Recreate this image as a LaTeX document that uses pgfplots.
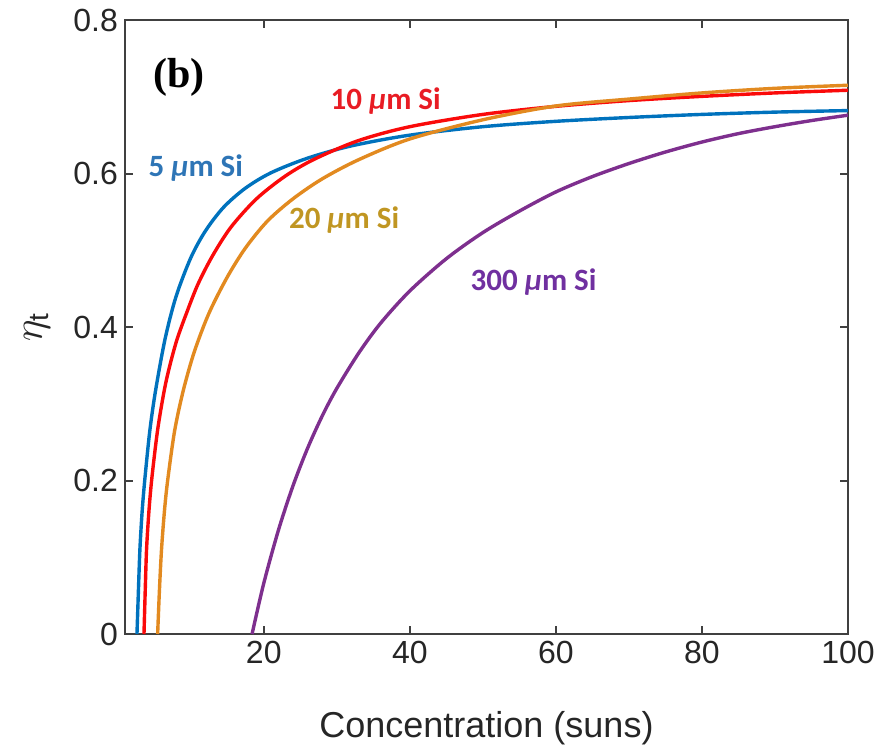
\documentclass[border=0pt]{standalone}
\usepackage{fontspec}
\setmainfont{Liberation Sans}
\newfontfamily\labfont{Carlito}
\newfontfamily\titfont{Liberation Serif}
\usepackage{pgfplots}
\pgfplotsset{compat=1.18}

\definecolor{cblue}{RGB}{0,114,189}
\definecolor{cred}{RGB}{250,10,10}
\definecolor{corange}{RGB}{226,138,32}
\definecolor{cpurple}{RGB}{126,47,142}
\definecolor{lblue}{RGB}{46,117,182}
\definecolor{lred}{RGB}{232,28,36}
\definecolor{lgold}{RGB}{192,150,34}
\definecolor{lpurple}{RGB}{112,48,160}
\definecolor{axgray}{RGB}{64,64,64}

\begin{document}
\begin{tikzpicture}
\useasboundingbox (-62.5pt,-56pt) rectangle (376pt,317pt);
\begin{axis}[
  at={(0,0)}, anchor=south west,
  scale only axis,
  width=361.5pt, height=307pt,
  xmin=1, xmax=100, ymin=0, ymax=0.8,
  xtick={20,40,60,80,100},
  ytick={0,0.2,0.4,0.6,0.8},
  yticklabels={0,0.2,0.4,0.6,0.8},
  tick align=inside,
  major tick length=4pt,
  axis line style={draw=axgray, line width=1.2pt},
  tick style={draw=axgray, line width=1pt},
  /pgf/number format/assume math mode=true,
  ticklabel style={font=\fontsize{16}{16}\selectfont, text=black!85},
  xlabel={Concentration (suns)},
  xlabel style={font=\fontsize{18}{18}\selectfont, text=black!85,
    at={(axis description cs:0.5,-0.1678)}, anchor=base},
  ylabel={$\eta_{\mathrm{t}}$},
  ylabel style={font=\fontsize{20}{20}\selectfont, text=black!85,
    at={(axis description cs:-0.1217,0.5)}, anchor=center},
  clip=true,
  every axis plot/.append style={line width=1.7pt, smooth, tension=0.5},
]

% 5 um Si
\addplot[cblue] coordinates {
  (2.64,0) (2.85,0.06) (3.05,0.112) (3.35,0.160) (3.7,0.200) (4.4,0.265)
  (5.2,0.318) (6.5,0.385) (8,0.440) (10,0.490) (12,0.525) (14.5,0.556)
  (17.5,0.581) (21,0.601) (26,0.620) (32,0.636) (40,0.650) (50,0.661)
  (60,0.668) (70,0.673) (80,0.677) (90,0.680) (100,0.682)
};

% 10 um Si
\addplot[cred] coordinates {
  (3.6,0) (3.78,0.06) (3.96,0.112) (4.3,0.163) (4.7,0.205) (5.5,0.268)
  (6.6,0.328) (8,0.380) (9.5,0.420) (11,0.456) (13,0.493) (15.5,0.530)
  (19,0.567) (23,0.597) (27,0.619) (33,0.643) (40,0.661) (50,0.677)
  (60,0.6875) (70,0.695) (80,0.7005) (90,0.705) (100,0.7085)
};

% 20 um Si
\addplot[corange] coordinates {
  (5.47,0) (5.72,0.058) (6.0,0.110) (6.4,0.160) (6.84,0.200) (7.8,0.265)
  (9.0,0.318) (10.5,0.368) (12.5,0.418) (15,0.465) (17.5,0.503)
  (20.5,0.538) (24,0.567) (28,0.593) (33,0.618) (40,0.645) (50,0.670)
  (60,0.688) (70,0.697) (80,0.705) (90,0.711) (100,0.715)
};

% 300 um Si
\addplot[cpurple] coordinates {
  (18.4,0) (20,0.066) (22,0.135) (24,0.193) (26,0.242) (28,0.284)
  (30,0.320) (33,0.366) (36,0.405) (40,0.447) (45,0.489) (50,0.523)
  (55,0.551) (60,0.576) (65,0.596) (70,0.613) (75,0.628) (80,0.641)
  (85,0.652) (90,0.661) (95,0.669) (100,0.676)
};

\node[font=\titfont\bfseries\fontsize{21}{21}\selectfont] at (axis cs:8.4,0.725) {(b)};
\node[font=\labfont\bfseries\fontsize{15.5}{15.5}\selectfont, text=lred] at (axis cs:36.7,0.694) {10 {\itshape µ}m Si};
\node[font=\labfont\bfseries\fontsize{15.5}{15.5}\selectfont, text=lblue] at (axis cs:10.7,0.607) {5 {\itshape µ}m Si};
\node[font=\labfont\bfseries\fontsize{15.5}{15.5}\selectfont, text=lgold] at (axis cs:31.0,0.539) {20 {\itshape µ}m Si};
\node[font=\labfont\bfseries\fontsize{15.5}{15.5}\selectfont, text=lpurple] at (axis cs:56.95,0.459) {300 {\itshape µ}m Si};
\end{axis}
\end{tikzpicture}
\end{document}
